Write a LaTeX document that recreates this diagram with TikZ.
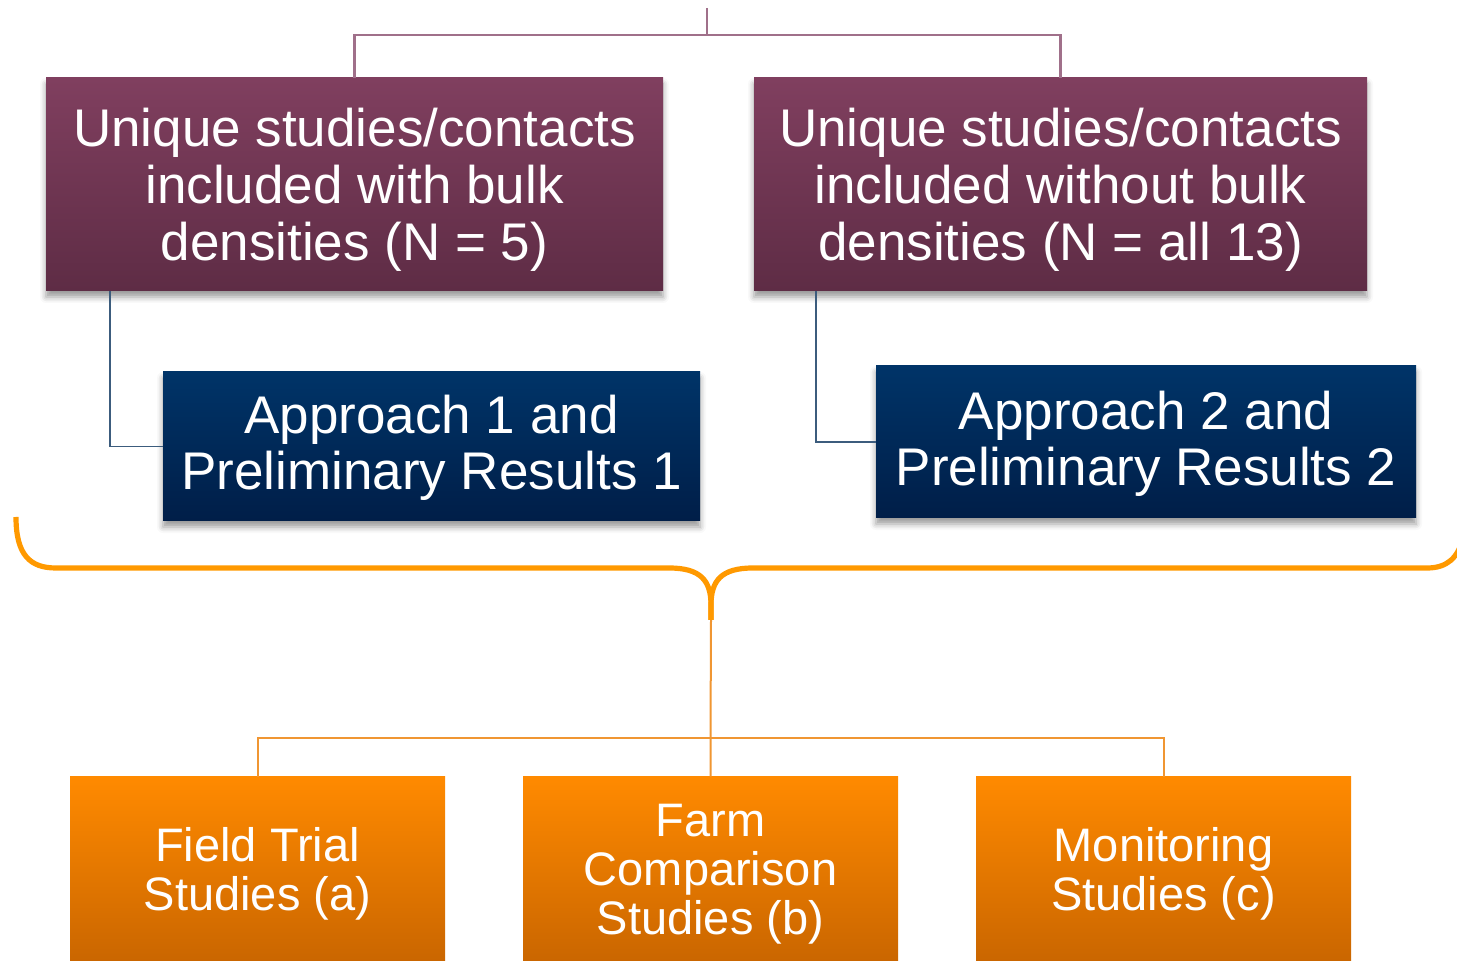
\documentclass[tikz,border=0pt]{standalone}
\usepackage{fontspec}
\setmainfont{Liberation Sans}
\usetikzlibrary{shadows.blur}
\definecolor{plumtop}{RGB}{128,63,95}
\definecolor{plumbot}{RGB}{94,44,69}
\definecolor{plumline}{RGB}{160,112,138}
\definecolor{navytop}{RGB}{0,52,104}
\definecolor{navybot}{RGB}{0,30,72}
\definecolor{navyline}{RGB}{60,92,125}
\definecolor{ortop}{RGB}{255,138,0}
\definecolor{orbot}{RGB}{202,102,0}
\definecolor{braceorange}{RGB}{255,153,0}
\definecolor{orline}{RGB}{240,150,50}
% invisible strut that sets the height of a box's first text line
\newcommand\firstlinestrut[1]{\rule{0pt}{#1}}
\tikzset{
  box/.style={rectangle, inner sep=0pt, align=center, text=white},
  plumbox/.style={box, top color=plumtop, bottom color=plumbot,
    font=\fontsize{26.5}{28.5}\selectfont,
    blur shadow={shadow xshift=0pt, shadow yshift=-3pt, shadow blur radius=3pt, shadow opacity=40}},
  navybox/.style={box, top color=navytop, bottom color=navybot,
    font=\fontsize{26.5}{28}\selectfont,
    blur shadow={shadow xshift=0pt, shadow yshift=-3pt, shadow blur radius=3pt, shadow opacity=40}},
  orbox/.style={box, top color=ortop, bottom color=orbot,
    font=\fontsize{23.5}{24.5}\selectfont,
    minimum width=187.5pt, minimum height=92pt},
  plumlink/.style={draw=plumline, line width=1.2pt},
  navylink/.style={draw=navyline, line width=0.9pt},
  orlink/.style={draw=orline, line width=1pt},
  bracket/.style={draw=braceorange, line width=2.6pt, line join=round}
}
\begin{document}
\begin{tikzpicture}[x=0.5pt, y=-0.5pt]
\useasboundingbox (0,0) rectangle (1457,961);

% upper tier: the two data sets
\node[plumbox, minimum width=308.5pt, minimum height=106.5pt] (p1) at (354.5,184.5)
  {\firstlinestrut{24pt}Unique studies/contacts\\included with bulk\\densities (N = 5)};
\node[plumbox, minimum width=306.5pt, minimum height=106.5pt] (p2) at (1060.5,184.5)
  {\firstlinestrut{24pt}Unique studies/contacts\\included without bulk\\densities (N = all 13)};

% approaches
\node[navybox, minimum width=268.5pt, minimum height=74.5pt] (n1) at (431.5,446.5)
  {\firstlinestrut{21pt}Approach 1 and\\Preliminary Results 1};
\node[navybox, minimum width=270pt, minimum height=76pt] (n2) at (1146,442)
  {\firstlinestrut{21.5pt}Approach 2 and\\Preliminary Results 2};

% study types
\node[orbox] (o1) at (257.5,869) {\firstlinestrut{21.5pt}Field Trial\\Studies (a)};
\node[orbox] (o2) at (710.5,869) {\firstlinestrut{21.5pt}Farm\\Comparison\\Studies (b)};
\node[orbox] (o3) at (1163.5,869) {\firstlinestrut{21.5pt}Monitoring\\Studies (c)};

% connectors of the upper tier
\coordinate (top) at (707,8);
\coordinate (hub) at (707,35);
\draw[plumlink] (top) -- (hub);
\draw[plumlink] (hub) -| (p1.north);
\draw[plumlink] (hub) -| (p2.north);

\coordinate (c1) at (110,291);
\coordinate (c2) at (816,291);
\draw[navylink] (c1) |- (n1.west);
\draw[navylink] (c2) |- (n2.west);

% curly bracket gathering both approaches
\coordinate (tip) at (711,620);
\draw[bracket] (16,517) .. controls (16,555) and (30,568) .. (56,568)
  -- (669,568) .. controls (700,568) and (711,580) .. (711,605) -- (tip);
\draw[bracket] (tip) -- (711,605) .. controls (711,580) and (722,568) .. (753,568)
  -- (1427,568) .. controls (1447,568) and (1458,558) .. (1463,538);

% connectors of the lower tier
\coordinate (bus) at (710.5,738);
\draw[orlink] (tip) -- (bus) -- (o2.north);
\draw[orlink] (bus) -| (o1.north);
\draw[orlink] (bus) -| (o3.north);
\end{tikzpicture}
\end{document}
